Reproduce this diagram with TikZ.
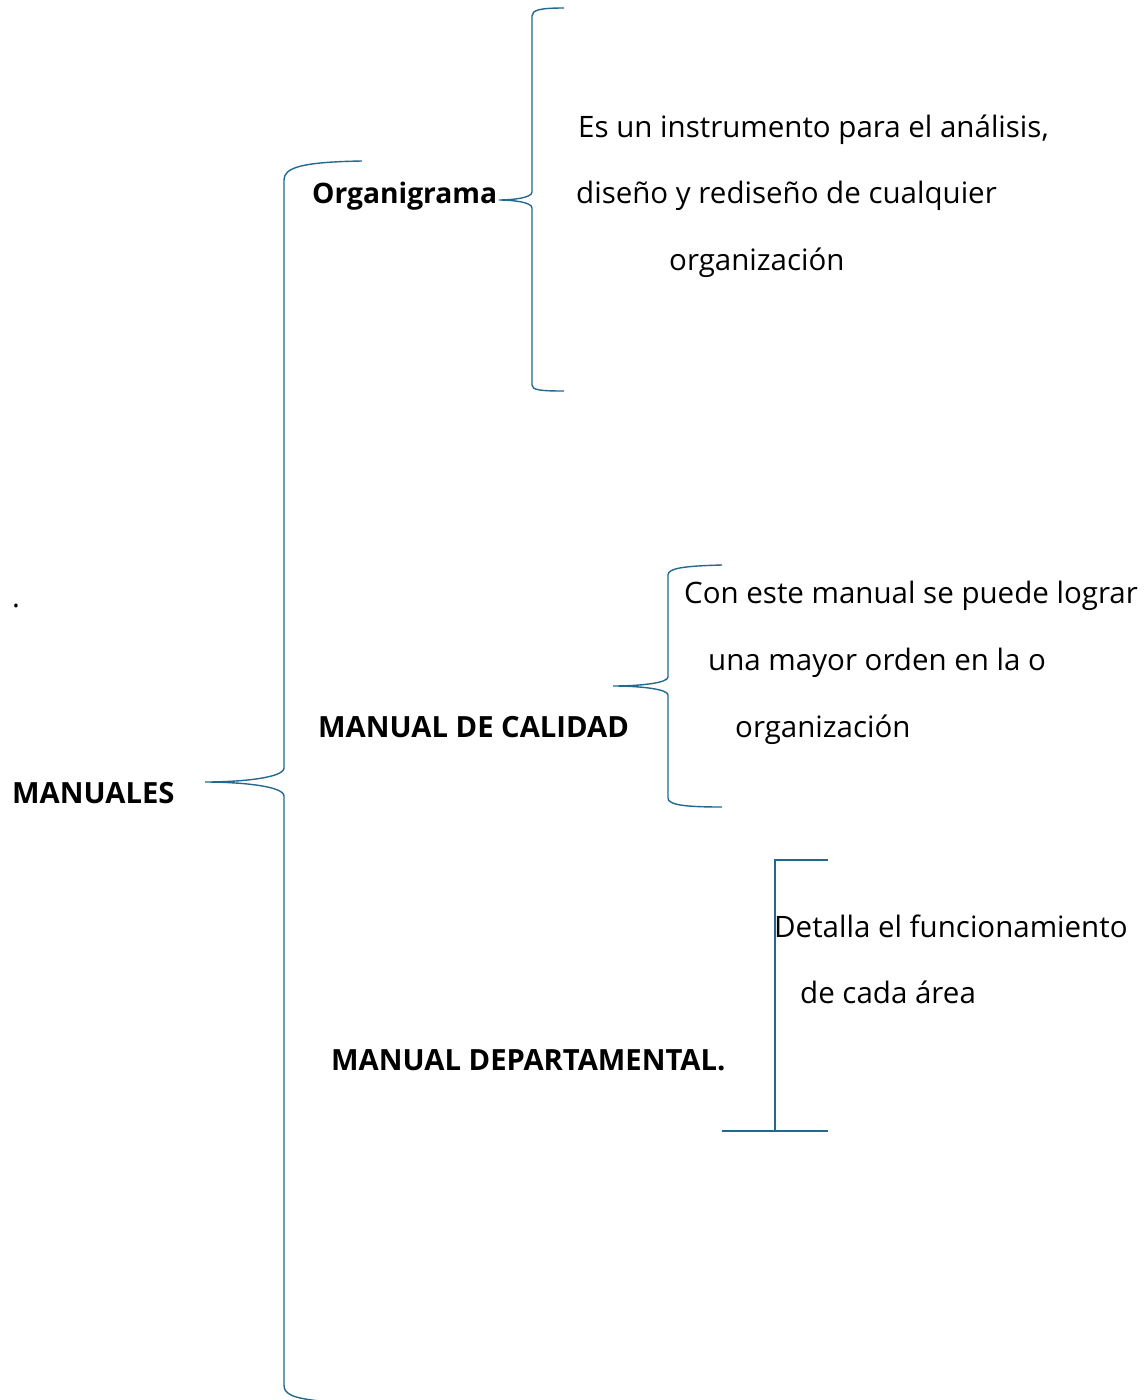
\documentclass[tikz,border=0pt]{standalone}
\usepackage{fontspec}
\setmainfont{Open Sans}
\definecolor{brk}{HTML}{23698F}
\begin{document}
\begin{tikzpicture}[x=1pt,y=-1pt,
  brace/.style={draw=brk,line width=1.4pt},
  txt/.style={anchor=base west,inner sep=0pt,font=\fontsize{29.5}{34}\selectfont},
  hd/.style={anchor=base west,inner sep=0pt,font=\fontsize{29.2}{34}\selectfont\bfseries}]
\useasboundingbox (0,0) rectangle (1147,1400);
% big brace
\coordinate (bigtip) at (205,782);
\draw[brace] (362,161) .. controls (300,162) and (284,168) .. (284,180)
  -- (284,768) .. controls (284,778) and (240,782) .. (bigtip)
  .. controls (240,782) and (284,786) .. (284,796)
  -- (284,1385) .. controls (284,1394) and (292,1398) .. (320,1401);
% organigrama brace
\coordinate (orgtip) at (499,200);
\draw[brace] (564,8) .. controls (540,8) and (532,10) .. (532,16)
  -- (532,192) .. controls (532,198) and (512,200) .. (orgtip)
  .. controls (512,200) and (532,202) .. (532,208)
  -- (532,385) .. controls (532,390) and (540,391) .. (564,391);
% calidad brace
\coordinate (caltip) at (613,686);
\draw[brace] (722,565) .. controls (685,566) and (668,568) .. (668,575)
  -- (668,677) .. controls (668,683) and (640,686) .. (caltip)
  .. controls (640,686) and (668,689) .. (668,695)
  -- (668,798) .. controls (668,805) and (685,807) .. (722,807);
% departamental bracket
\coordinate (deptip) at (722,1131);
\draw[brace] (828,860) -- (775,860) -- (775,1131) -- (828,1131);
\draw[brace] (deptip) -- (775,1131);
% texts
\node[hd,font=\fontsize{28.2}{34}\selectfont\bfseries] (org) at (312,203) {Organigrama};
\node[txt] (o1) at (578,137) {Es un instrumento para el análisis,};
\node[txt] (o2) at (576,203) {diseño y rediseño de cualquier};
\node[txt] (o3) at (669,270) {organización};
\node[txt] (dot) at (12,607) {.};
\node[txt] (c1) at (684,603) {Con este manual se puede lograr};
\node[txt] (c2) at (708,670) {una mayor orden en la o};
\node[txt] (c3) at (735,737) {organización};
\node[hd] (cal) at (318,737) {MANUAL DE CALIDAD};
\node[hd] (man) at (12,803) {MANUALES};
\node[txt] (d1) at (774,937) {Detalla el funcionamiento};
\node[txt] (d2) at (800,1003) {de cada área};
\node[hd] (dep) at (331,1070) {MANUAL DEPARTAMENTAL.};
\end{tikzpicture}
\end{document}
